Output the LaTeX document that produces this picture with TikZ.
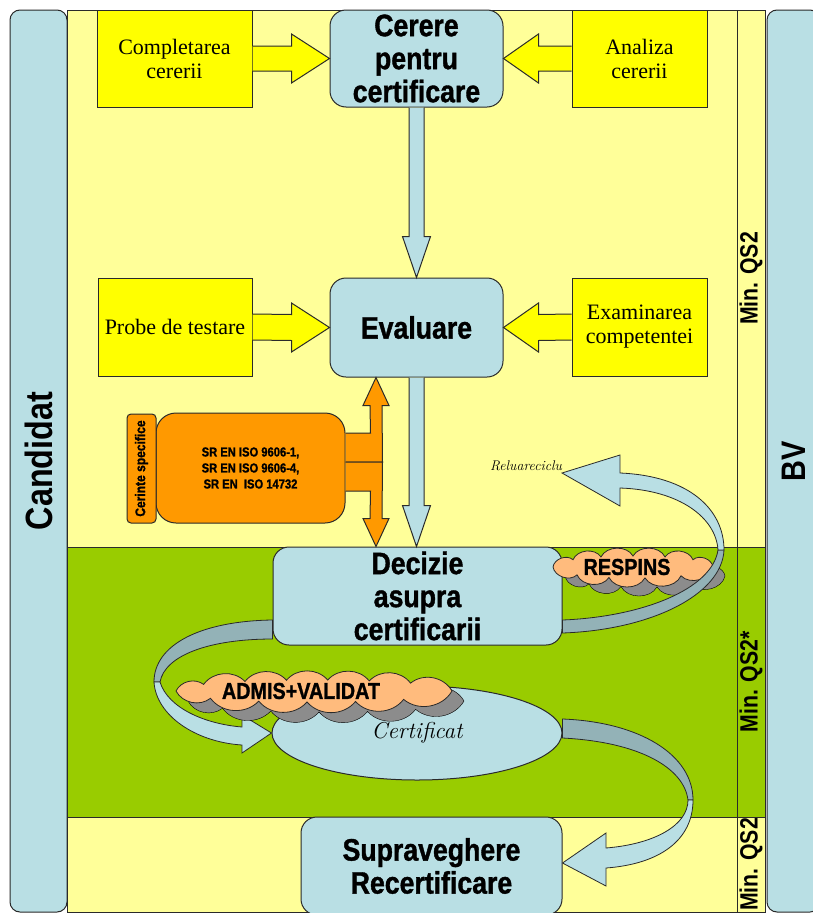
\documentclass[tikz,border=0pt]{standalone}
\usepackage{fontspec}
\newfontfamily\timesf{Liberation Serif}
\newfontfamily\impactf[FakeStretch=0.86,FakeBold=1.2]{Liberation Sans}
\newfontfamily\narrowf[FakeStretch=0.85]{Liberation Sans}
\usetikzlibrary{calc,shapes.geometric}
\definecolor{lblue}{HTML}{B9DFE4}
\definecolor{dblue}{HTML}{93B2B7}
\definecolor{lyellow}{HTML}{FFFF99}
\definecolor{yel}{HTML}{FFFF00}
\definecolor{grn}{HTML}{99CC00}
\definecolor{orng}{HTML}{FF9900}
\definecolor{cloudc}{HTML}{FFBB7D}
\definecolor{shad}{HTML}{8C8C8C}
\definecolor{edge}{HTML}{2A2A2A}
% cloud outline: #1 style, #2 centre, #3 half width, #4 half height, #5 bend, #6 angles
\newcommand\cloudoutline[6]{%
  \draw[#1] ($(#2)+(#3,0)$) \foreach \t in {#6} { to[bend left=#5] ($(#2)+({#3*cos(\t)},{#4*sin(\t)})$) } -- cycle;}
\begin{document}
\begin{tikzpicture}[x=1pt,y=-1pt,
  edgeline/.style={draw=edge, line width=1pt},
  procbox/.style={edgeline, fill=lblue, rounded corners=16pt, inner sep=0pt, align=center, font=\impactf\bfseries\fontsize{31}{33}\selectfont},
  inbox/.style={edgeline, fill=yel, inner sep=0pt, align=center, minimum height=97pt, font=\timesf\fontsize{22}{24}\selectfont},
  yarrow/.style={edgeline, fill=yel},
  barrow/.style={edgeline, fill=lblue},
  oarrow/.style={edgeline, fill=orng},
  ribl/.style={edgeline, line width=0.8pt, fill=lblue},
  ribd/.style={edgeline, line width=0.8pt, fill=dblue},
  cloudfill/.style={edgeline, line width=0.8pt, fill=cloudc},
  cloudshadow/.style={fill=shad},
  cloudtext/.style={font=\impactf\bfseries\fontsize{23}{23}\selectfont, inner sep=0pt},
  mincell/.style={edgeline, rotate=90, minimum height=28pt, inner sep=0pt, font=\narrowf\bfseries\fontsize{25}{25}\selectfont},
  lane/.style={edgeline, fill=lblue, rotate=90, rounded corners=10pt, minimum width=902pt, inner sep=0pt},
  scripttext/.style={font=\itshape\fontsize{#1}{#1}\selectfont}
]
\useasboundingbox (0,0) rectangle (813,913);
\fill[white] (0,0) rectangle (813,913);

% lanes
\node[lane, minimum height=57pt, font=\narrowf\bfseries\fontsize{38}{38}\selectfont] (cand) at (38.5,461) {Candidat};
\node[lane, minimum height=53pt, font=\narrowf\bfseries\fontsize{34}{34}\selectfont] (bv) at (793.5,461) {BV};
\fill[lyellow] (67,10) rectangle (737,912);
\fill[grn] (67,547) rectangle (737,817);
\draw[edgeline] (67,10) rectangle (737,912);
\draw[edgeline] (67,547) -- (737,547) (67,817) -- (737,817);
\node[mincell, fill=lyellow, minimum width=537pt] (m1) at (751,278.5) {Min. QS2};
\node[mincell, fill=grn, minimum width=270pt] (m2) at (751,682) {Min. QS2*};
\node[mincell, fill=lyellow, minimum width=95pt] (m3) at (751,864.5) {Min. QS2};

% top row
\node[inbox, minimum width=155pt] (comp) at (174.5,58.5) {Completarea\\cererii};
\node[procbox, minimum width=173pt, minimum height=97pt] (cerere) at (416.5,58.5) {Cerere\\pentru\\certificare};
\node[inbox, minimum width=135pt] (anal) at (639.5,58.5) {Analiza\\cererii};
% second row
\node[inbox, minimum width=154pt, minimum height=98pt] (probe) at (175,327) {Probe de testare};
\node[procbox, minimum width=173pt, minimum height=99pt] (eval) at (416.5,327.5) {Evaluare};
\node[inbox, minimum width=135pt, minimum height=98pt] (exam) at (639.5,327) {Examinarea\\competentei};

% orange requirements
\node[edgeline, fill=orng, rounded corners=20pt, minimum width=189pt, minimum height=110pt, inner sep=0pt, align=center, font=\impactf\bfseries\fontsize{13}{16}\selectfont] (iso) at (250.5,468) {SR EN ISO 9606-1,\\SR EN ISO 9606-4,\\SR EN\ \ ISO 14732};
\node[edgeline, fill=orng, rounded corners=4pt, rotate=90, minimum width=109pt, minimum height=29pt, inner sep=0pt, font=\impactf\bfseries\fontsize{14}{14}\selectfont] (cer) at (141.5,468.5) {Cerinte specifice};

% decision, certificate, surveillance
\node[procbox, minimum width=289pt, minimum height=98pt] (dec) at (417.5,596) {Decizie\\asupra\\certificarii};
\node[procbox, minimum width=261pt, minimum height=98pt] (sup) at (431.5,866) {Supraveghere\\Recertificare};
\node[ellipse, edgeline, fill=lblue, minimum width=290pt, minimum height=94pt, inner sep=0pt, scripttext=23] (cert) at (417,733) {Certificat};

% yellow block arrows
\draw[yarrow] ($(comp.east)+(0,-12.5)$) -- ($(cerere.west)+(-38,-12.5)$) -- ($(cerere.west)+(-38,-24.5)$) -- (cerere.west) -- ($(cerere.west)+(-38,24.5)$) -- ($(cerere.west)+(-38,12.5)$) -- ($(comp.east)+(0,12.5)$);
\draw[yarrow] ($(anal.west)+(0,-12.5)$) -- ($(cerere.east)+(35,-12.5)$) -- ($(cerere.east)+(35,-24.5)$) -- (cerere.east) -- ($(cerere.east)+(35,24.5)$) -- ($(cerere.east)+(35,12.5)$) -- ($(anal.west)+(0,12.5)$);
\draw[yarrow] ($(probe.east)+(0,-13)$) -- ($(eval.west)+(-38,-13)$) -- ($(eval.west)+(-38,-24.5)$) -- (eval.west) -- ($(eval.west)+(-38,24.5)$) -- ($(eval.west)+(-38,13)$) -- ($(probe.east)+(0,13)$);
\draw[yarrow] ($(exam.west)+(0,-13)$) -- ($(eval.east)+(35,-13)$) -- ($(eval.east)+(35,-24.5)$) -- (eval.east) -- ($(eval.east)+(35,24.5)$) -- ($(eval.east)+(35,13)$) -- ($(exam.west)+(0,13)$);

% blue block arrows
\draw[barrow] ($(cerere.south)+(-7.5,0)$) -- ($(eval.north)+(-7.5,-41)$) -- ($(eval.north)+(-14,-41)$) -- (eval.north) -- ($(eval.north)+(14,-41)$) -- ($(eval.north)+(7.5,-41)$) -- ($(cerere.south)+(7.5,0)$);
\coordinate (bx) at (416.5,0);
\draw[barrow] ($(eval.south)+(-7.5,0)$) -- ($(dec.north -| bx)+(-7.5,-41)$) -- ($(dec.north -| bx)+(-14,-41)$) -- (dec.north -| bx) -- ($(dec.north -| bx)+(14,-41)$) -- ($(dec.north -| bx)+(7.5,-41)$) -- ($(eval.south)+(7.5,0)$);

% orange double arrow
\coordinate (ox) at (376,0);
\draw[oarrow] ($(iso.east)+(0,-35)$) -- ($(iso.east)+(25,-35)$) -- ($(eval.south -| ox)+(-6,28)$) -- ($(eval.south -| ox)+(-13,28)$) -- (eval.south -| ox) -- ($(eval.south -| ox)+(13,28)$) -- ($(eval.south -| ox)+(6,28)$) -- ($(iso.east)+(37,-6)$) -- ($(iso.east)+(0,-6)$);
\draw[oarrow] ($(iso.east)+(0,-6)$) -- ($(iso.east)+(37,-6)$) -- ($(dec.north -| ox)+(6,-28)$) -- ($(dec.north -| ox)+(13,-28)$) -- (dec.north -| ox) -- ($(dec.north -| ox)+(-13,-28)$) -- ($(dec.north -| ox)+(-6,-28)$) -- ($(iso.east)+(25,23)$) -- ($(iso.east)+(0,23)$);

% left ribbon: decision -> certificate
\draw[ribd] ($(dec.west)+(0,24)$) .. controls (200,621) and (154,645) .. (154,682) -- (160,682) .. controls (165,655) and (210,639) .. ($(dec.west)+(0,43)$) -- cycle;
\draw[ribl] (154,682) .. controls (156,715) and (195,742) .. (242,745) -- (242,753) -- (cert.west) -- (242,715) -- (242,727) .. controls (205,724) and (168,708) .. (160,682) -- cycle;

% ADMIS cloud
\coordinate (admissh) at (326,701);
\coordinate (admisc) at (314,691);
\cloudoutline{cloudshadow}{admissh}{138}{11}{50}{49.5,72.5,92.9,113.6,138.6,180,216.9,240,258.5,275.7,293.6,314.4,360}
\cloudoutline{cloudfill}{admisc}{138}{11}{50}{49.5,72.5,92.9,113.6,138.6,180,216.9,240,258.5,275.7,293.6,314.4,360}
\node[cloudtext] (admist) at (301,691) {ADMIS+VALIDAT};

% RESPINS cloud
\coordinate (respsh) at (645,576);
\coordinate (respc) at (633,567);
\cloudoutline{cloudshadow}{respsh}{80}{11}{62}{53.1,81.4,107.5,134.4,180,221.4,246.4,270,293.6,318.6,360}
\cloudoutline{cloudfill}{respc}{80}{11}{62}{53.1,81.4,107.5,134.4,180,221.4,246.4,270,293.6,318.6,360}
\node[cloudtext] (respt) at (627,567) {RESPINS};

% restart ribbon
\node[scripttext=14] (rel) at (526,466) {Reluareciclu};
\coordinate (reltip) at (562,473);
\draw[ribd] (724,550) .. controls (722,595) and (650,630) .. ($(dec.east)+(0,37)$) -- ($(dec.east)+(0,24)$) .. controls (640,617) and (712,590) .. (718,550) -- cycle;
\draw[ribl] (620,473) .. controls (690,476) and (724,510) .. (724,550) -- (718,550) .. controls (716,518) and (680,490) .. (620,488) -- (620,506) -- (reltip) -- (620,455) -- cycle;

% right ribbon: certificate -> surveillance
\coordinate (suptip) at ($(sup.east)+(0,-3)$);
\draw[ribd] ($(cert.east)+(0,-14)$) .. controls (640,722) and (693,755) .. (693,800) -- (688,800) .. controls (684,768) and (640,742) .. ($(cert.east)+(0,5)$) -- cycle;
\draw[ribl] (693,800) .. controls (693,840) and (660,864) .. (606,868) -- (606,886) -- (suptip) -- (606,833) -- (606,848) .. controls (655,844) and (688,825) .. (688,800) -- cycle;
\end{tikzpicture}
\end{document}
